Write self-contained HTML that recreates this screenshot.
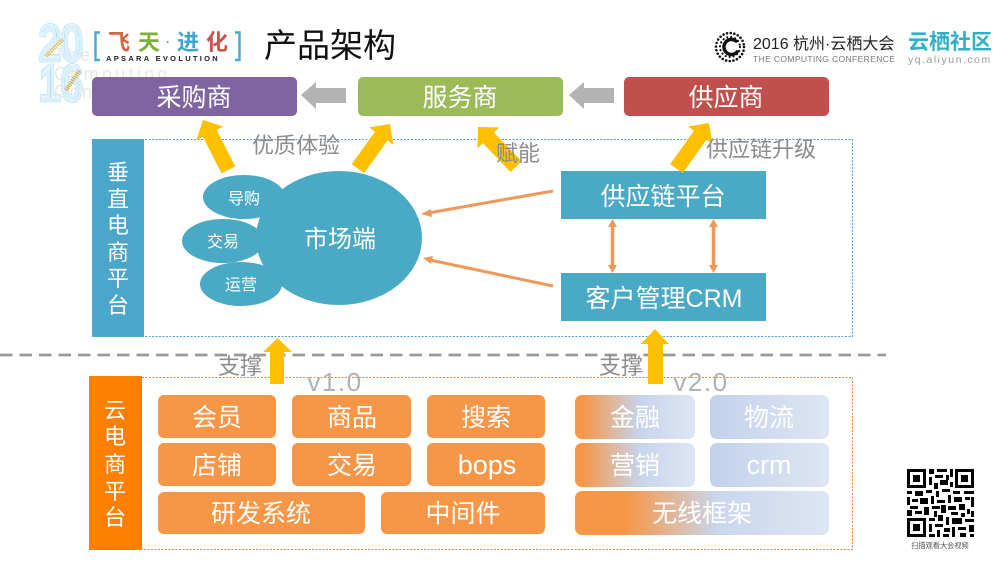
<!DOCTYPE html>
<html><head><meta charset="utf-8">
<style>
html,body{margin:0;padding:0;background:#fff;width:1000px;height:563px;overflow:hidden}
svg{display:block}
text{font-family:"Liberation Sans","Noto Sans CJK SC",sans-serif}
.w{fill:#fff;text-anchor:middle}
.g{fill:#8c8c8c;text-anchor:middle;font-size:22px}
.b{font-size:25px;fill:#fff;text-anchor:middle}
</style></head><body>
<svg width="1000" height="563" viewBox="0 0 1000 563" xmlns="http://www.w3.org/2000/svg">
<defs>
<linearGradient id="gl" x1="0" x2="1" y1="0" y2="0"><stop offset="0.06" stop-color="#f79646"/><stop offset="0.54" stop-color="#c6d4ec"/><stop offset="1" stop-color="#dfe6f3"/></linearGradient>
<linearGradient id="gw" x1="0" x2="1" y1="0" y2="0"><stop offset="0.2" stop-color="#f79646"/><stop offset="0.56" stop-color="#c9d6ec"/><stop offset="1" stop-color="#dfe6f3"/></linearGradient>
<linearGradient id="gr" x1="0" x2="1" y1="0" y2="0"><stop offset="0" stop-color="#c2d1ec"/><stop offset="1" stop-color="#dfe6f3"/></linearGradient>
</defs>

<!-- left logo -->
<g fill="#e8e8e8" font-size="18" letter-spacing="2.500">
<text x="54" y="61">The</text>
<text x="54" y="80" letter-spacing="3.300">Computing</text>
<text x="54" y="98">Con</text>
</g>
<g font-family="Liberation Sans" font-size="49" fill="none">
<g transform="translate(39,60) scale(.8,1)">
<text stroke="#a3dbf3" stroke-width="4.500">20</text><text stroke="#fff" stroke-width="3.200">20</text><text stroke="#a3dbf3" stroke-width="1.800">20</text><text stroke="#fff" stroke-width=".8">20</text>
</g>
<g transform="translate(39,100) scale(.8,1)">
<text stroke="#a3dbf3" stroke-width="4.500">16</text><text stroke="#fff" stroke-width="3.200">16</text><text stroke="#a3dbf3" stroke-width="1.800">16</text><text stroke="#fff" stroke-width=".8">16</text>
</g>
</g>
<path d="M46 56L63 39" stroke="#e8b850" stroke-width="4" stroke-dasharray="1.200 1" fill="none"/>
<path d="M66 90L80 70" stroke="#d9a441" stroke-width="4" stroke-dasharray="1.200 1" fill="none"/>
<path d="M100 32.500h-4.500v27.500h4.500" fill="none" stroke="#47a9d2" stroke-width="2.400"/>
<path d="M235 32.500h4.500v27.500h-4.500" fill="none" stroke="#47a9d2" stroke-width="2.400"/>
<g font-size="22" font-weight="bold" text-anchor="middle">
<text x="119" y="50" fill="#d4623a">飞</text>
<text x="149" y="50" fill="#7fae3a">天</text>
<text x="168" y="46" fill="#47a9d2" font-size="12">·</text>
<text x="188" y="50" fill="#3fa6cc">进</text>
<text x="217" y="50" fill="#c9554f">化</text>
</g>
<text x="106" y="61" font-size="7.500" font-weight="bold" fill="#222" letter-spacing="2.300">APSARA EVOLUTION</text>

<text x="264" y="57" font-size="33" fill="#111">产品架构</text>

<!-- right logo -->
<g fill="none" stroke="#111" stroke-linecap="round">
<circle cx="730" cy="47" r="14" stroke-width="2.600" stroke-dasharray="0 3.700"/>
<circle cx="730" cy="47" r="10" stroke-width="2.200" stroke-dasharray="0 4"/>
<path d="M736 41a7.500 7.500 0 1 0 1 11" stroke-width="3.500"/>
</g>
<text x="753" y="49" font-size="16" fill="#222">2016 杭州·云栖大会</text>
<text x="753" y="62" font-size="8.500" fill="#777" letter-spacing=".38">THE COMPUTING CONFERENCE</text>
<text x="908" y="49" font-size="21" font-weight="bold" fill="#2fb0c6">云栖社区</text>
<text x="908" y="63" font-size="10.500" fill="#999" letter-spacing="1.500">yq.aliyun.com</text>

<!-- top boxes -->
<rect x="92" y="77" width="205" height="39" rx="5" fill="#8064a2"/>
<rect x="358" y="77" width="205" height="39" rx="5" fill="#9bbb59"/>
<rect x="624" y="77" width="205" height="39" rx="5" fill="#c0504d"/>
<text class="w" x="194" y="106" font-size="25">采购商</text>
<text class="w" x="460" y="106" font-size="25">服务商</text>
<text class="w" x="726" y="106" font-size="25">供应商</text>
<polygon fill="#b3b3b3" points="301,95 316,82 316,88 346,88 346,103 316,103 316,109"/>
<polygon fill="#b3b3b3" points="569,95 584,82 584,88 614,88 614,103 584,103 584,109"/>

<!-- vertical platform -->
<rect x="92.500" y="139.500" width="760" height="197" fill="none" stroke="#4d9fdc" stroke-width="1" stroke-dasharray="2 1.500"/>
<rect x="92" y="139" width="52" height="198" fill="#4aa7c9"/>
<g font-size="22" fill="#fff" text-anchor="middle">
<text x="118" y="180">垂</text><text x="118" y="207">直</text><text x="118" y="233">电</text><text x="118" y="260">商</text><text x="118" y="286">平</text><text x="118" y="313">台</text>
</g>
<g fill="#4aa9c5">
<ellipse cx="339" cy="238" rx="83" ry="67"/>
<ellipse cx="244" cy="197" rx="41" ry="22"/>
<ellipse cx="223" cy="241" rx="41" ry="22"/>
<ellipse cx="241" cy="284" rx="41" ry="22"/>
</g>
<text class="w" x="340" y="247" font-size="24">市场端</text>
<text class="w" x="244" y="204" font-size="16">导购</text>
<text class="w" x="223" y="247" font-size="16">交易</text>
<text class="w" x="241" y="290" font-size="16">运营</text>
<rect x="561" y="171" width="205" height="48" fill="#4aa9c5"/>
<rect x="561" y="273" width="205" height="48" fill="#4aa9c5"/>
<text class="b" x="663" y="205">供应链平台</text>
<text class="b" x="664" y="307">客户管理CRM</text>

<!-- yellow arrows -->
<g fill="#ffc000">
<polygon transform="translate(203,120) rotate(-27)" points="0,0 15,15 7.700,15 7.700,56 -7.700,56 -7.700,15 -15,15"/>
<polygon transform="translate(390,124) rotate(35.700)" points="0,0 15,15 7.700,15 7.700,55 -7.700,55 -7.700,15 -15,15"/>
<polygon transform="translate(478,127) rotate(-43.900)" points="0,0 15,15 7.700,15 7.700,55 -7.700,55 -7.700,15 -15,15"/>
<polygon transform="translate(709,123) rotate(35.500)" points="0,0 15,15 7.700,15 7.700,56 -7.700,56 -7.700,15 -15,15"/>
</g>
<text class="g" x="296" y="153">优质体验</text>
<text class="g" x="518" y="161">赋能</text>
<text class="g" x="761" y="157">供应链升级</text>

<!-- orange connectors -->
<g stroke="#f0975a" stroke-width="3" fill="none">
<line x1="553" y1="191" x2="428" y2="213"/>
<line x1="553" y1="286" x2="430" y2="260"/>
<line x1="612.500" y1="224" x2="612.500" y2="268" stroke-width="3.500"/>
<line x1="713.500" y1="224" x2="713.500" y2="268" stroke-width="3.500"/>
</g>
<g fill="#f0975a">
<polygon points="421,214 431,209 432,217"/>
<polygon points="423,258 433,256 431,264"/>
<polygon points="612.500,219 608,227 617,227"/>
<polygon points="612.500,273 608,265 617,265"/>
<polygon points="713.500,219 709,227 718,227"/>
<polygon points="713.500,273 709,265 718,265"/>
</g>

<!-- divider -->
<line x1="0" y1="355" x2="886" y2="355" stroke="#9a9a9a" stroke-width="2.800" stroke-dasharray="12.500 7"/>

<!-- cloud platform -->
<rect x="89.500" y="377.500" width="763" height="172" fill="none" stroke="#e8843a" stroke-width="1" stroke-dasharray="2 1.500"/>
<rect x="89" y="376" width="53" height="174" fill="#ff8000"/>
<g font-size="22" fill="#fff" text-anchor="middle">
<text x="115" y="418">云</text><text x="115" y="444">电</text><text x="115" y="472">商</text><text x="115" y="499">平</text><text x="115" y="525">台</text>
</g>
<text x="335" y="391" text-anchor="middle" font-size="26" fill="#aeb3ba" letter-spacing="1.500">v1.0</text>
<text x="701" y="391" text-anchor="middle" font-size="26" fill="#aeb3ba" letter-spacing="1.500">v2.0</text>
<text class="g" x="240" y="374">支撑</text>
<text class="g" x="621" y="374">支撑</text>
<polygon fill="#ffc000" points="277.500,338 292,352 284,352 284,384 270,384 270,352 263,352"/>
<polygon fill="#ffc000" points="655,329 669,344 663,344 663,384 648,384 648,344 641,344"/>

<g fill="#f79646">
<rect x="158" y="395" width="118" height="43" rx="6"/>
<rect x="292" y="395" width="119" height="43" rx="6"/>
<rect x="427" y="395" width="118" height="43" rx="6"/>
<rect x="158" y="443" width="118" height="43" rx="6"/>
<rect x="292" y="443" width="119" height="43" rx="6"/>
<rect x="427" y="443" width="118" height="43" rx="6"/>
<rect x="158" y="492" width="207" height="42" rx="6"/>
<rect x="381" y="492" width="164" height="42" rx="6"/>
</g>
<rect x="575" y="395" width="120" height="44" rx="7" fill="url(#gl)"/>
<rect x="575" y="443" width="120" height="44" rx="7" fill="url(#gl)"/>
<rect x="575" y="491" width="254" height="44" rx="7" fill="url(#gw)"/>
<rect x="710" y="395" width="119" height="44" rx="7" fill="url(#gr)"/>
<rect x="710" y="443" width="119" height="44" rx="7" fill="url(#gr)"/>
<text class="b" x="217" y="426">会员</text>
<text class="b" x="352" y="426">商品</text>
<text class="b" x="486" y="426">搜索</text>
<text class="b" x="217" y="474">店铺</text>
<text class="b" x="352" y="474">交易</text>
<text class="b" x="487" y="474" style="font-size:27px">bops</text>
<text class="b" x="261" y="522">研发系统</text>
<text class="b" x="463" y="522">中间件</text>
<text class="b" x="635" y="426">金融</text>
<text class="b" x="769" y="426">物流</text>
<text class="b" x="635" y="474">营销</text>
<text class="b" x="769" y="474" style="font-size:27px">crm</text>
<text class="b" x="702" y="522">无线框架</text>

<!-- QR -->
<g fill="#000">
<path fill-rule="evenodd" d="M907 469h19v19h-19zM910 472v13h13v-13zM955 469h19v19h-19zM958 472v13h13v-13zM907 518h19v19h-19zM910 521v13h13v-13z"/>
<rect x="913" y="475" width="7" height="7"/><rect x="961" y="475" width="7" height="7"/><rect x="913" y="524" width="7" height="7"/>
<path d="M929 469h5v5h-5zM937 469h10v3h-10zM950 469h3v8h-3zM929 477h3v8h-3zM935 475h8v3h-8zM940 480h8v5h-8zM934 483h4v6h-4zM946 475h3v5h-3zM950 482h3v5h-3z"/>
<path d="M907 491h5v3h-5zM915 491h8v5h-8zM926 490h6v3h-6zM936 491h3v6h-3zM942 489h8v3h-8zM953 491h7v3h-7zM964 491h10v3h-10z"/>
<path d="M907 497h3v8h-3zM912 499h6v3h-6zM920 498h8v6h-8zM931 496h3v8h-3zM937 500h8v3h-8zM948 495h3v8h-3zM954 497h8v5h-8zM965 497h5v3h-5zM971 497h3v10h-3z"/>
<path d="M910 506h8v3h-8zM907 510h5v6h-5zM915 511h7v3h-7zM924 507h5v8h-5zM932 506h8v3h-8zM934 511h3v6h-3zM941 505h5v8h-5zM948 506h8v4h-8zM959 504h6v6h-6zM967 509h3v5h-3zM951 512h7v3h-7zM961 513h4v4h-4zM971 511h3v6h-3z"/>
<path d="M929 518h6v3h-6zM938 515h5v6h-5zM946 517h3v8h-3zM952 518h10v6h-10zM965 519h9v3h-9zM929 524h3v8h-3zM935 524h8v3h-8zM937 530h3v7h-3zM944 528h6v4h-6zM952 527h3v10h-3zM958 527h8v3h-8zM969 525h5v7h-5zM960 533h6v4h-6zM970 534h4v3h-4zM929 534h6v3h-6zM943 534h6v3h-6z"/>
</g>
<text x="940" y="548" text-anchor="middle" font-size="7.200" fill="#555">扫描观看大会视频</text>
</svg>
</body></html>
